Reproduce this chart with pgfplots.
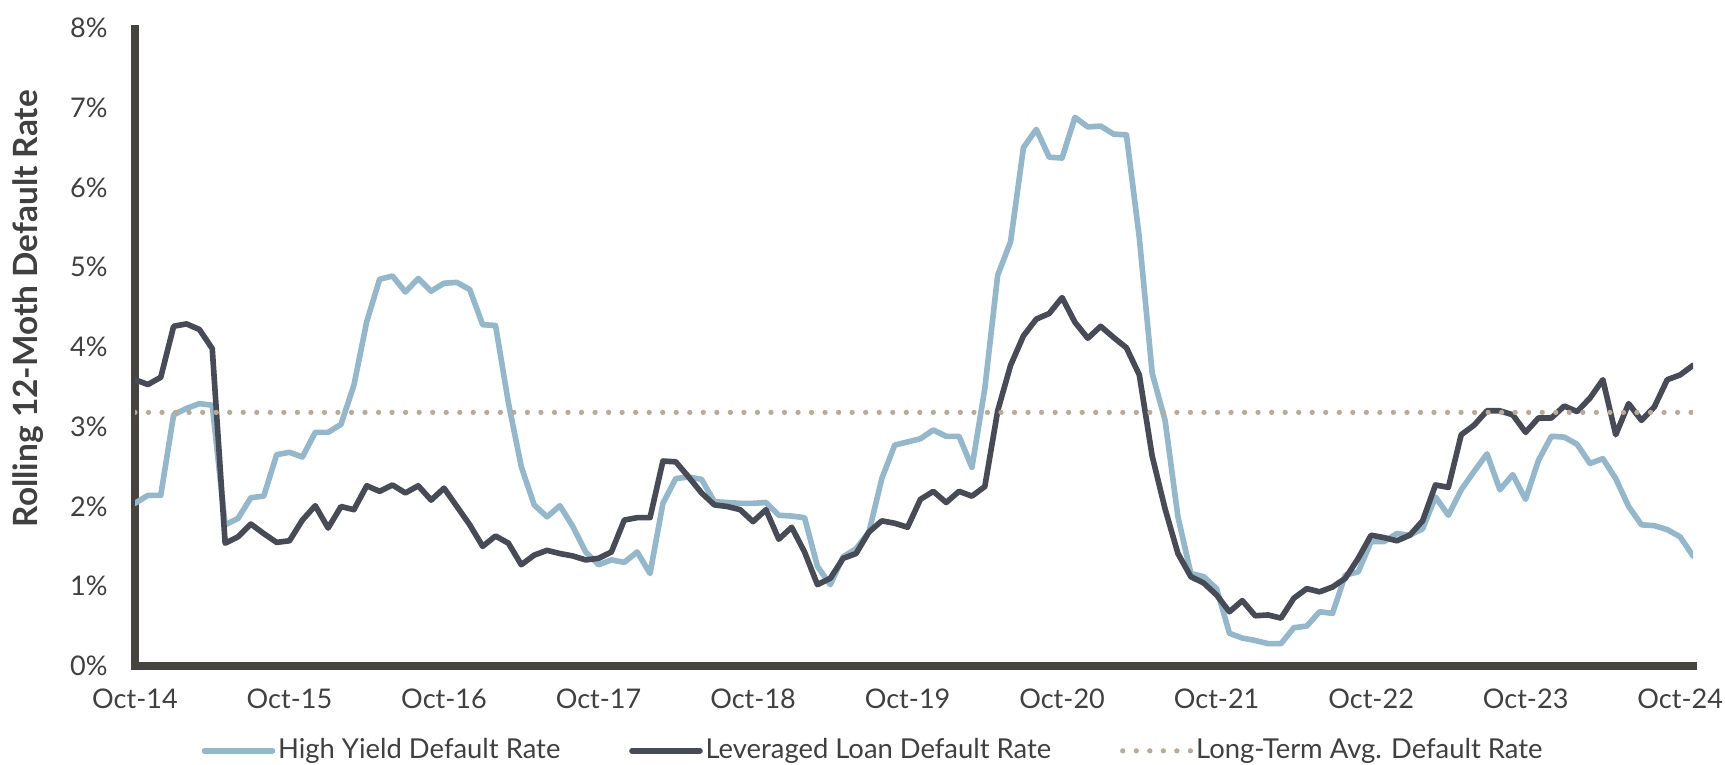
\documentclass[border=0pt]{standalone}
\usepackage{fontspec}
\setmainfont{Lato}
\usepackage{pgfplots}
\pgfplotsset{compat=1.18}
\usepackage{pgfplotstable}

\definecolor{hyblue}{RGB}{147,184,203}
\definecolor{llgray}{RGB}{71,75,85}
\definecolor{avgtan}{RGB}{184,171,152}
\definecolor{axisdark}{RGB}{70,68,62}
\definecolor{txt}{RGB}{64,64,64}

% monthly, Oct-14 (i=0) to Nov-24 (i=121)
\pgfplotstableread{
i hy ll
0 2.04 3.59
1 2.14 3.53
2 2.14 3.62
3 3.15 4.26
4 3.23 4.29
5 3.29 4.22
6 3.27 3.98
7 1.77 1.54
8 1.85 1.62
9 2.11 1.78
10 2.13 1.66
11 2.65 1.55
12 2.68 1.57
13 2.62 1.83
14 2.93 2.01
15 2.93 1.73
16 3.03 2.00
17 3.52 1.96
18 4.32 2.26
19 4.85 2.19
20 4.89 2.27
21 4.69 2.17
22 4.86 2.26
23 4.70 2.08
24 4.80 2.23
25 4.81 2.00
26 4.72 1.77
27 4.28 1.50
28 4.27 1.63
29 3.30 1.54
30 2.50 1.27
31 2.02 1.39
32 1.87 1.45
33 2.01 1.41
34 1.75 1.38
35 1.43 1.33
36 1.27 1.35
37 1.33 1.43
38 1.30 1.83
39 1.43 1.86
40 1.16 1.86
41 2.04 2.57
42 2.35 2.56
43 2.37 2.37
44 2.34 2.17
45 2.06 2.02
46 2.05 2.00
47 2.04 1.96
48 2.04 1.81
49 2.05 1.96
50 1.89 1.59
51 1.88 1.74
52 1.86 1.43
53 1.25 1.02
54 1.02 1.10
55 1.37 1.35
56 1.47 1.41
57 1.68 1.68
58 2.35 1.82
59 2.77 1.79
60 2.81 1.74
61 2.85 2.09
62 2.96 2.19
63 2.88 2.05
64 2.88 2.19
65 2.49 2.13
66 3.48 2.25
67 4.90 3.20
68 5.32 3.77
69 6.50 4.14
70 6.73 4.35
71 6.38 4.42
72 6.37 4.62
73 6.88 4.31
74 6.76 4.11
75 6.77 4.26
76 6.67 4.12
77 6.66 3.99
78 5.37 3.65
79 3.67 2.63
80 3.08 1.97
81 1.87 1.41
82 1.16 1.12
83 1.12 1.04
84 0.97 0.89
85 0.41 0.68
86 0.35 0.82
87 0.32 0.63
88 0.28 0.64
89 0.28 0.60
90 0.48 0.85
91 0.50 0.97
92 0.68 0.93
93 0.66 0.99
94 1.14 1.10
95 1.18 1.35
96 1.56 1.64
97 1.56 1.61
98 1.66 1.57
99 1.64 1.64
100 1.72 1.82
101 2.12 2.27
102 1.89 2.24
103 2.21 2.90
104 2.44 3.02
105 2.66 3.20
106 2.21 3.20
107 2.40 3.15
108 2.09 2.93
109 2.58 3.11
110 2.88 3.11
111 2.87 3.26
112 2.78 3.19
113 2.54 3.36
114 2.60 3.59
115 2.35 2.90
116 2.00 3.29
117 1.77 3.08
118 1.76 3.25
119 1.71 3.59
120 1.62 3.65
121 1.38 3.77
}\defaults

\begin{document}
\begin{tikzpicture}
\path[use as bounding box] (-1.35cm,-0.99cm) rectangle (15.90cm,6.66cm);
\begin{axis}[
    scale only axis,
    width=15.58cm, height=6.38cm,
    xmin=0, xmax=121, ymin=0, ymax=8,
    axis lines*=left,
    axis line style={line width=2pt, color=axisdark, line cap=rect},
    major tick length=0pt,
    xtick={0,12,...,120},
    xticklabels={Oct-14,Oct-15,Oct-16,Oct-17,Oct-18,Oct-19,Oct-20,Oct-21,Oct-22,Oct-23,Oct-24},
    ytick={0,...,8},
    yticklabels={0\%,1\%,2\%,3\%,4\%,5\%,6\%,7\%,8\%},
    tick label style={font=\fontsize{7.7}{9}\selectfont, color=txt},
    yticklabel style={anchor=east, xshift=-0.15cm},
    xticklabel style={yshift=-0.1cm},
    ylabel={Rolling 12-Moth Default Rate},
    ylabel style={font=\fontsize{9.5}{11}\selectfont\bfseries, color=txt,
        at={(axis description cs:-0.0684,0.56)}, anchor=center},
    legend columns=3,
    legend cell align=left,
    legend style={at={(axis description cs:0.474,-0.133)}, anchor=center,
        draw=none, fill=none, font=\fontsize{7.8}{10}\selectfont, text=txt,
        nodes={inner xsep=0.8pt},
        /tikz/every even column/.append style={column sep=0.66cm}},
    legend image code/.code={\draw[#1] (0cm,0cm) -- (0.68cm,0cm);},
]
\addplot[hyblue, line width=1.6pt, line join=round, line cap=round, no marks] table[x=i, y=hy] {\defaults};
\addlegendentry{High Yield Default Rate}
\addplot[llgray, line width=1.6pt, line join=round, line cap=round, no marks] table[x=i, y=ll] {\defaults};
\addlegendentry{Leveraged Loan Default Rate}
\addplot[avgtan, line width=1.5pt, line cap=round, dash pattern=on 0pt off 3.85pt, no marks] coordinates {(0,3.18) (121,3.18)};
\addlegendentry{Long-Term Avg. Default Rate}
\end{axis}
\end{tikzpicture}
\end{document}
